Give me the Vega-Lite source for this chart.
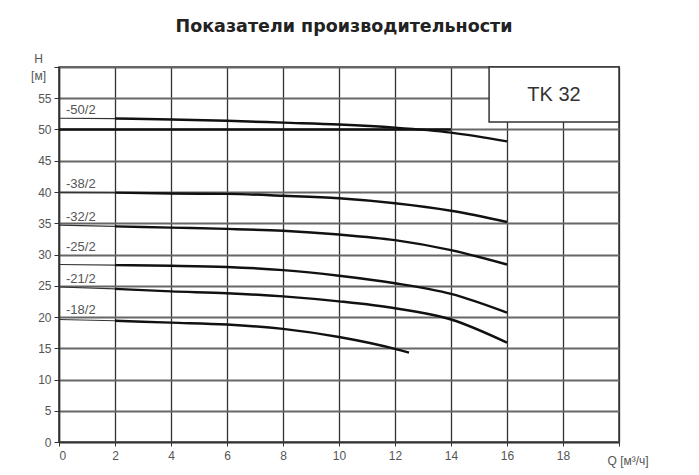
{
  "$schema": "https://vega.github.io/schema/vega-lite/v6.json",
  "autosize": "none",
  "padding": {"left": 59, "top": 67, "right": 80, "bottom": 33},
  "width": 560,
  "height": 375,
  "background": "white",
  "config": {
    "font": "Liberation Sans",
    "view": {"stroke": "#333", "strokeWidth": 1.5}
  },
  "title": {
    "text": "Показатели производительности",
    "font": "DejaVu Sans",
    "fontSize": 17.5,
    "fontWeight": "bold",
    "color": "#222",
    "anchor": "middle",
    "dx": 5,
    "offset": 17
  },
  "datasets": {
    "curves": [
      {"pump": "-50/2", "q": 0, "h": 51.8}, {"pump": "-50/2", "q": 2, "h": 51.75}, {"pump": "-50/2", "q": 4, "h": 51.6},
      {"pump": "-50/2", "q": 6, "h": 51.4}, {"pump": "-50/2", "q": 8, "h": 51.1}, {"pump": "-50/2", "q": 10, "h": 50.8},
      {"pump": "-50/2", "q": 12, "h": 50.3}, {"pump": "-50/2", "q": 14, "h": 49.5}, {"pump": "-50/2", "q": 16, "h": 48.1},
      {"pump": "-38/2", "q": 0, "h": 39.95}, {"pump": "-38/2", "q": 2, "h": 39.9}, {"pump": "-38/2", "q": 4, "h": 39.75},
      {"pump": "-38/2", "q": 6, "h": 39.7}, {"pump": "-38/2", "q": 8, "h": 39.4}, {"pump": "-38/2", "q": 10, "h": 39.0},
      {"pump": "-38/2", "q": 12, "h": 38.2}, {"pump": "-38/2", "q": 14, "h": 37.0}, {"pump": "-38/2", "q": 16, "h": 35.2},
      {"pump": "-32/2", "q": 0, "h": 34.7}, {"pump": "-32/2", "q": 2, "h": 34.5}, {"pump": "-32/2", "q": 4, "h": 34.3},
      {"pump": "-32/2", "q": 6, "h": 34.1}, {"pump": "-32/2", "q": 8, "h": 33.8}, {"pump": "-32/2", "q": 10, "h": 33.2},
      {"pump": "-32/2", "q": 12, "h": 32.3}, {"pump": "-32/2", "q": 14, "h": 30.7}, {"pump": "-32/2", "q": 16, "h": 28.4},
      {"pump": "-25/2", "q": 0, "h": 28.4}, {"pump": "-25/2", "q": 2, "h": 28.3}, {"pump": "-25/2", "q": 4, "h": 28.2},
      {"pump": "-25/2", "q": 6, "h": 28.0}, {"pump": "-25/2", "q": 8, "h": 27.5}, {"pump": "-25/2", "q": 10, "h": 26.6},
      {"pump": "-25/2", "q": 12, "h": 25.4}, {"pump": "-25/2", "q": 14, "h": 23.7}, {"pump": "-25/2", "q": 16, "h": 20.7},
      {"pump": "-21/2", "q": 0, "h": 24.8}, {"pump": "-21/2", "q": 2, "h": 24.5}, {"pump": "-21/2", "q": 4, "h": 24.1},
      {"pump": "-21/2", "q": 6, "h": 23.8}, {"pump": "-21/2", "q": 8, "h": 23.3}, {"pump": "-21/2", "q": 10, "h": 22.5},
      {"pump": "-21/2", "q": 12, "h": 21.4}, {"pump": "-21/2", "q": 14, "h": 19.6}, {"pump": "-21/2", "q": 16, "h": 15.9},
      {"pump": "-18/2", "q": 0, "h": 19.6}, {"pump": "-18/2", "q": 2, "h": 19.4}, {"pump": "-18/2", "q": 4, "h": 19.1},
      {"pump": "-18/2", "q": 6, "h": 18.8}, {"pump": "-18/2", "q": 8, "h": 18.1}, {"pump": "-18/2", "q": 10, "h": 16.8},
      {"pump": "-18/2", "q": 12, "h": 14.9}, {"pump": "-18/2", "q": 12.5, "h": 14.3}
    ],
    "limit": [
      {"q": 0, "h": 50}, {"q": 14, "h": 50}
    ],
    "labels": [
      {"pump": "-50/2", "q": 0.25, "h": 52.5},
      {"pump": "-38/2", "q": 0.25, "h": 40.6},
      {"pump": "-32/2", "q": 0.25, "h": 35.4},
      {"pump": "-25/2", "q": 0.25, "h": 30.6},
      {"pump": "-21/2", "q": 0.25, "h": 25.4},
      {"pump": "-18/2", "q": 0.25, "h": 20.5}
    ],
    "box": [
      {"name": "TK 32", "q": 15.36, "q2": 20, "h": 51.2, "h2": 60, "qc": 17.68, "hc": 55.6}
    ]
  },
  "encoding": {
    "x": {
      "field": "q",
      "type": "quantitative",
      "scale": {"domain": [0, 20], "nice": false},
      "axis": {
        "values": [0, 2, 4, 6, 8, 10, 12, 14, 16, 18, 20],
        "labelExpr": "datum.value == 20 ? '' : datum.label",
        "title": "Q [м³/ч]",
        "titleX": 548,
        "titleY": 22,
        "titleAlign": "left",
        "titleBaseline": "alphabetic",
        "titleFontSize": 12,
        "titleFontWeight": "normal",
        "titleColor": "#555",
        "labelFontSize": 12,
        "labelColor": "#555",
        "labelPadding": 4,
        "tickSize": 4,
        "tickColor": "#333",
        "domainColor": "#333",
        "domainWidth": 1.5,
        "gridColor": "#333",
        "gridWidth": 1.3,
        "gridOpacity": 1
      }
    },
    "y": {
      "field": "h",
      "type": "quantitative",
      "scale": {"domain": [0, 60], "nice": false},
      "axis": {
        "values": [0, 5, 10, 15, 20, 25, 30, 35, 40, 45, 50, 55, 60],
        "labelExpr": "datum.value == 60 ? '' : datum.label",
        "title": ["H", "[м]"],
        "titleAngle": 0,
        "titleX": -21,
        "titleY": -5,
        "titleAlign": "center",
        "titleBaseline": "alphabetic",
        "titleLineHeight": 17,
        "titleFontSize": 12,
        "titleFontWeight": "normal",
        "titleColor": "#555",
        "labelFontSize": 12,
        "labelColor": "#555",
        "labelPadding": 3,
        "tickSize": 5,
        "tickColor": "#333",
        "domainColor": "#333",
        "domainWidth": 1.5,
        "gridColor": "#666",
        "gridWidth": 2.2,
        "gridOpacity": 1
      }
    }
  },
  "layer": [
    {
      "data": {"name": "box"},
      "mark": {"type": "rect", "fill": "white", "stroke": "#333", "strokeWidth": 1.5},
      "encoding": {"x": {"field": "q"}, "x2": {"field": "q2"}, "y": {"field": "h"}, "y2": {"field": "h2"}}
    },
    {
      "data": {"name": "box"},
      "mark": {"type": "text", "fontSize": 20, "color": "#333", "align": "center", "baseline": "middle"},
      "encoding": {"x": {"field": "qc"}, "y": {"field": "hc"}, "text": {"field": "name"}}
    },
    {
      "data": {"name": "limit"},
      "mark": {"type": "line", "color": "#111", "strokeWidth": 2.6},
      "encoding": {}
    },
    {
      "data": {"name": "curves"},
      "transform": [{"filter": "datum.q <= 2"}],
      "mark": {"type": "line", "color": "#333", "strokeWidth": 1.2},
      "encoding": {"detail": {"field": "pump"}}
    },
    {
      "data": {"name": "curves"},
      "transform": [{"filter": "datum.q >= 2"}],
      "mark": {"type": "line", "color": "#111", "strokeWidth": 2.5, "interpolate": "monotone"},
      "encoding": {"detail": {"field": "pump"}}
    },
    {
      "data": {"name": "labels"},
      "mark": {"type": "text", "fontSize": 13, "color": "#555", "align": "left", "baseline": "alphabetic"},
      "encoding": {"text": {"field": "pump"}}
    }
  ]
}
